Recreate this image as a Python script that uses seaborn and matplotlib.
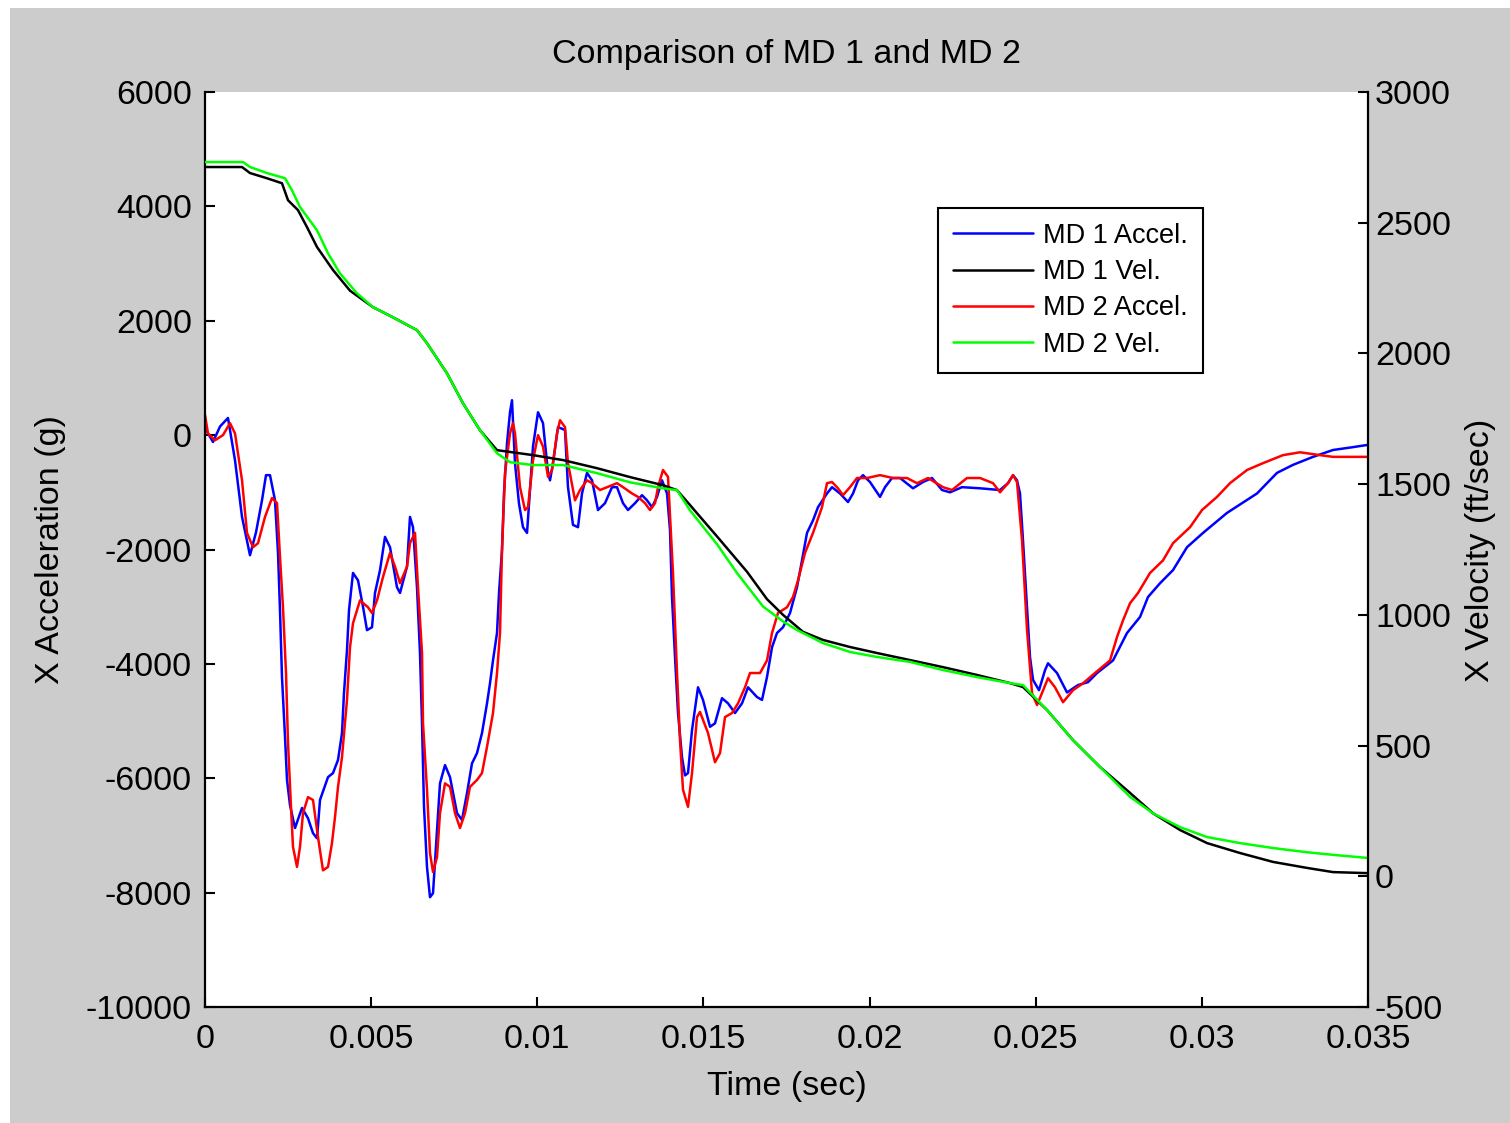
import numpy as np
import matplotlib
matplotlib.use("Agg")
import matplotlib.pyplot as plt
from matplotlib.patches import Rectangle
import seaborn as sns

# ---------------------------------------------------------------------------
# Measured data (time in milliseconds)
# ---------------------------------------------------------------------------
t_md1_accel = [
    0.000, 0.241, 0.451, 0.692, 0.903, 1.114, 1.354, 1.535, 1.715, 1.836,
    1.956, 2.107, 2.197, 2.257, 2.317, 2.408, 2.468, 2.558, 2.709, 2.919,
    3.100, 3.250, 3.371, 3.461, 3.702, 3.852, 4.003, 4.123, 4.183, 4.273,
    4.334, 4.454, 4.605, 4.755, 4.875, 5.026, 5.116, 5.267, 5.417, 5.568,
    5.778, 5.869, 6.079, 6.169, 6.260, 6.380, 6.470, 6.531, 6.591, 6.681,
    6.771, 6.862, 6.982, 7.072, 7.223, 7.373, 7.584, 7.734, 7.885, 8.035,
    8.186, 8.336, 8.487, 8.577, 8.667, 8.788, 8.848, 8.938, 8.998, 9.089,
    9.179, 9.239, 9.329, 9.450, 9.570, 9.691, 9.781, 9.871, 10.022, 10.172,
    10.323, 10.383, 10.473, 10.624, 10.834, 10.924, 11.075, 11.225, 11.346, 11.496,
    11.647, 11.827, 12.038, 12.249, 12.399, 12.580, 12.730, 12.941, 13.152, 13.302,
    13.452, 13.603, 13.753, 13.904, 13.994, 14.054, 14.145, 14.235, 14.355, 14.446,
    14.536, 14.656, 14.837, 14.987, 15.198, 15.348, 15.559, 15.740, 15.950, 16.161,
    16.342, 16.612, 16.763, 16.913, 17.064, 17.214, 17.395, 17.606, 17.816, 17.967,
    18.117, 18.298, 18.448, 18.719, 18.870, 19.110, 19.351, 19.502, 19.652, 19.803,
    20.013, 20.314, 20.465, 20.675, 20.916, 21.307, 21.608, 21.879, 22.180, 22.421,
    22.782, 23.324, 23.925, 24.166, 24.317, 24.437, 24.527, 24.617, 24.738, 24.828,
    24.919, 25.099, 25.280, 25.370, 25.641, 25.942, 26.273, 26.574, 26.845, 27.326,
    27.748, 28.139, 28.380, 28.741, 29.132, 29.553, 30.035, 30.757, 31.660, 32.262,
    32.743, 33.345, 33.947, 34.549, 35.000,
]
md1_accel = [
    120, -120, 150, 300, -440, -1430, -2100, -1700, -1140, -700,
    -700, -1140, -2060, -3060, -4230, -5280, -6030, -6470, -6870, -6520,
    -6700, -6960, -7050, -6380, -5980, -5910, -5680, -5210, -4510, -3760,
    -3060, -2410, -2540, -3000, -3410, -3360, -2760, -2360, -1780, -1960,
    -2660, -2760, -2300, -1430, -1610, -2660, -3810, -5040, -6500, -7550,
    -8080, -8010, -6910, -6090, -5770, -5980, -6610, -6730, -6260, -5740,
    -5560, -5210, -4690, -4340, -3940, -3460, -2760, -2010, -1020, -140,
    400, 610, -490, -1200, -1610, -1710, -960, -200, 400, 210,
    -660, -790, -490, 140, 90, -910, -1570, -1610, -1020, -660,
    -790, -1310, -1190, -910, -910, -1190, -1310, -1190, -1050, -1140,
    -1260, -1080, -790, -1020, -1660, -2830, -3880, -4860, -5630, -5950,
    -5910, -5160, -4410, -4630, -5100, -5040, -4600, -4690, -4860, -4690,
    -4410, -4580, -4630, -4230, -3710, -3460, -3360, -3110, -2660, -2190,
    -1710, -1490, -1260, -1020, -910, -1020, -1170, -1020, -790, -700,
    -820, -1080, -910, -750, -750, -930, -820, -750, -960, -1000,
    -910, -930, -960, -840, -700, -790, -1020, -1840, -3010, -3880,
    -4280, -4460, -4110, -3990, -4160, -4500, -4370, -4320, -4160, -3940,
    -3460, -3180, -2830, -2590, -2360, -1960, -1710, -1360, -1020, -660,
    -520, -380, -260, -210, -170,
]

t_md2_accel = [
    0.000, 0.090, 0.301, 0.542, 0.752, 0.903, 1.114, 1.264, 1.445, 1.595,
    1.806, 2.017, 2.167, 2.257, 2.347, 2.438, 2.498, 2.588, 2.648, 2.769,
    2.859, 2.949, 3.100, 3.250, 3.401, 3.551, 3.702, 3.822, 3.912, 4.003,
    4.123, 4.273, 4.364, 4.454, 4.665, 4.905, 5.026, 5.176, 5.357, 5.568,
    5.718, 5.869, 6.079, 6.169, 6.320, 6.410, 6.531, 6.561, 6.681, 6.771,
    6.862, 6.982, 7.072, 7.223, 7.373, 7.524, 7.674, 7.825, 7.975, 8.186,
    8.336, 8.487, 8.667, 8.788, 8.878, 8.938, 9.029, 9.179, 9.269, 9.329,
    9.480, 9.630, 9.721, 9.871, 10.022, 10.172, 10.323, 10.443, 10.593, 10.684,
    10.834, 10.924, 11.135, 11.286, 11.496, 11.647, 11.888, 12.098, 12.399, 12.580,
    12.851, 13.031, 13.242, 13.392, 13.543, 13.633, 13.783, 13.934, 14.084, 14.205,
    14.295, 14.385, 14.536, 14.656, 14.807, 14.897, 15.138, 15.348, 15.499, 15.649,
    15.860, 16.041, 16.251, 16.402, 16.703, 16.913, 17.064, 17.244, 17.515, 17.696,
    17.846, 18.057, 18.298, 18.568, 18.719, 18.870, 19.050, 19.200, 19.411, 19.622,
    19.923, 20.314, 20.705, 21.126, 21.427, 21.759, 22.210, 22.481, 22.932, 23.324,
    23.715, 23.925, 24.166, 24.317, 24.437, 24.588, 24.738, 24.889, 25.039, 25.189,
    25.370, 25.581, 25.822, 26.122, 26.423, 26.784, 27.236, 27.447, 27.627, 27.838,
    28.079, 28.440, 28.831, 29.132, 29.644, 30.005, 30.456, 30.847, 31.359, 31.840,
    32.442, 32.954, 33.556, 33.947, 35.000,
]
md2_accel = [
    350, 30, -90, 0, 210, 30, -790, -1710, -1960, -1890,
    -1430, -1100, -1190, -2130, -3010, -4160, -5380, -6500, -7200, -7550,
    -7200, -6610, -6330, -6380, -7030, -7610, -7550, -7130, -6680, -6150,
    -5630, -4630, -3710, -3290, -2890, -3010, -3110, -2890, -2480, -2060,
    -2300, -2590, -2300, -1890, -1710, -2660, -3810, -5040, -6200, -7310,
    -7640, -7380, -6610, -6090, -6150, -6610, -6870, -6610, -6150, -6030,
    -5910, -5450, -4860, -4160, -3460, -2010, -660, 30, 210, 30,
    -910, -1310, -1260, -440, 0, -200, -730, -610, 30, 260,
    140, -490, -1140, -960, -790, -840, -960, -910, -840, -910,
    -1020, -1080, -1190, -1310, -1190, -910, -610, -730, -2410, -4160,
    -5330, -6200, -6500, -5910, -4930, -4840, -5210, -5720, -5560, -4930,
    -4860, -4690, -4410, -4160, -4160, -3940, -3460, -3110, -3010, -2830,
    -2540, -2060, -1710, -1260, -840, -820, -930, -1050, -910, -750,
    -750, -700, -750, -750, -840, -750, -910, -960, -750, -750,
    -840, -1000, -840, -700, -820, -1840, -3400, -4510, -4720, -4510,
    -4250, -4410, -4670, -4460, -4340, -4160, -3940, -3530, -3240, -2940,
    -2760, -2410, -2190, -1890, -1610, -1310, -1080, -840, -610, -490,
    -350, -300, -350, -380, -380,
]

t_md1_vel = [
    0.000, 1.114, 1.354, 1.866, 2.317, 2.498, 2.799, 3.070, 3.371, 3.852,
    4.364, 5.056, 5.658, 6.380, 6.681, 7.283, 7.765, 8.276, 8.788, 9.871,
    10.774, 11.797, 12.790, 13.783, 14.205, 14.596, 15.409, 16.311, 16.913, 17.395,
    17.997, 18.599, 19.411, 20.224, 21.217, 22.210, 23.233, 24.226, 24.618, 25.340,
    26.122, 26.935, 27.838, 28.530, 29.343, 30.155, 31.148, 32.141, 33.165, 33.947,
    35.000,
]
md1_vel = [
    2713, 2713, 2690, 2670, 2651, 2586, 2548, 2483, 2407, 2319,
    2240, 2177, 2138, 2089, 2039, 1924, 1809, 1706, 1630, 1611,
    1592, 1561, 1527, 1496, 1477, 1420, 1300, 1165, 1060, 1000,
    935, 904, 877, 854, 827, 800, 770, 739, 724, 636,
    521, 418, 319, 241, 177, 127, 89, 55, 32, 16,
    12,
]

t_md2_vel = [
    0.000, 1.144, 1.354, 1.866, 2.408, 2.618, 2.859, 3.371, 3.702, 4.063,
    4.574, 5.056, 5.658, 6.380, 6.681, 7.283, 7.765, 8.276, 8.788, 9.179,
    9.871, 10.774, 11.797, 12.790, 13.783, 14.205, 14.596, 15.409, 16.011, 16.793,
    17.395, 17.816, 18.599, 19.411, 20.224, 21.217, 22.210, 23.233, 24.226, 24.618,
    25.340, 26.122, 26.935, 27.838, 28.530, 29.343, 30.155, 31.148, 32.141, 33.165,
    33.947, 35.000,
]
md2_vel = [
    2732, 2732, 2713, 2690, 2670, 2624, 2560, 2471, 2383, 2306,
    2230, 2177, 2138, 2089, 2039, 1924, 1809, 1706, 1618, 1584,
    1573, 1573, 1542, 1507, 1484, 1477, 1400, 1270, 1160, 1032,
    975, 942, 892, 858, 839, 820, 789, 762, 739, 731,
    636, 521, 418, 304, 241, 188, 150, 127, 108, 92,
    82, 70,
]

series_labels = ["MD 1 Accel.", "MD 1 Vel.", "MD 2 Accel.", "MD 2 Vel."]
x_ticks = [0, 0.005, 0.01, 0.015, 0.02, 0.025, 0.03, 0.035]
x_tick_labels = ["0", "0.005", "0.01", "0.015", "0.02", "0.025", "0.03", "0.035"]
accel_ticks = [-10000, -8000, -6000, -4000, -2000, 0, 2000, 4000, 6000]
vel_ticks = [-500, 0, 500, 1000, 1500, 2000, 2500, 3000]

# ---------------------------------------------------------------------------
# Styling
# ---------------------------------------------------------------------------
sns.set_style("ticks")
plt.rcParams["font.family"] = ["Liberation Sans", "DejaVu Sans"]
plt.rcParams["axes.unicode_minus"] = False
plt.rcParams["text.color"] = "black"
plt.rcParams["axes.labelcolor"] = "black"
plt.rcParams["xtick.color"] = "black"
plt.rcParams["ytick.color"] = "black"

W, H = 1510, 1123
fig = plt.figure(figsize=(W / 100, H / 100), dpi=100)
fig.patch.set_facecolor("white")
fig.add_artist(Rectangle((10 / W, 0), 1 - 10 / W, 1 - 8 / H,
                         transform=fig.transFigure, facecolor="#cccccc",
                         edgecolor="none", zorder=-10))

ax1 = fig.add_axes([205 / W, 1 - 1007 / H, (1368 - 205) / W, (1007 - 92) / H])
ax1.set_facecolor("white")
ax2 = ax1.twinx()

LW = 1.8
sns.lineplot(x=np.asarray(t_md1_accel) / 1000, y=md1_accel, ax=ax1,
             color="#0000ff", linewidth=LW, estimator=None, sort=False, legend=False)
sns.lineplot(x=np.asarray(t_md2_accel) / 1000, y=md2_accel, ax=ax1,
             color="#ff0000", linewidth=LW, estimator=None, sort=False, legend=False)
sns.lineplot(x=np.asarray(t_md1_vel) / 1000, y=md1_vel, ax=ax2,
             color="#000000", linewidth=LW, estimator=None, sort=False, legend=False)
sns.lineplot(x=np.asarray(t_md2_vel) / 1000, y=md2_vel, ax=ax2,
             color="#00ff00", linewidth=LW, estimator=None, sort=False, legend=False)

ax1.set_xlim(0, 0.035)
ax1.set_ylim(-10000, 6000)
ax2.set_ylim(-500, 3000)

ax1.set_xticks(x_ticks)
ax1.set_xticklabels(x_tick_labels)
ax1.set_yticks(accel_ticks)
ax2.set_yticks(vel_ticks)

FS = 24.5
ax1.tick_params(axis="both", direction="in", length=7, width=1.5,
                labelsize=FS, colors="black", top=False, right=False)
ax1.tick_params(axis="y", pad=9.5)
ax1.tick_params(axis="x", pad=12)
ax2.tick_params(axis="y", direction="in", length=7, width=1.5,
                labelsize=FS, colors="black", pad=5)

for s in ("top", "right"):
    ax1.spines[s].set_visible(False)
for s in ("top", "left", "bottom"):
    ax2.spines[s].set_visible(False)
for s in ("left", "bottom"):
    ax1.spines[s].set_linewidth(1.6)
    ax1.spines[s].set_color("black")
ax2.spines["right"].set_linewidth(1.6)
ax2.spines["right"].set_color("black")

ax1.set_xlabel("Time (sec)", fontsize=FS, color="black")
ax1.xaxis.set_label_coords(0.5, -(1071 - 1007) / 915)
ax1.set_ylabel("X Acceleration (g)", fontsize=FS, color="black")
ax1.yaxis.set_label_coords((66 - 205) / 1163, 0.4995)
ax2.set_ylabel("X Velocity (ft/sec)", fontsize=FS, color="black")
ax2.yaxis.set_label_coords((1465 - 205) / 1163, 0.4995)
ax1.set_title("Comparison of MD 1 and MD 2", fontsize=FS, pad=21, color="black")

handles = [ax1.lines[0], ax2.lines[0], ax1.lines[1], ax2.lines[1]]
leg = ax2.legend(handles, series_labels, loc="upper left",
                 bbox_to_anchor=(938 / W, 1 - 208 / H), bbox_transform=fig.transFigure,
                 borderaxespad=0, fontsize=19.5, frameon=True, fancybox=False,
                 shadow=False, edgecolor="black", framealpha=1,
                 handlelength=2.95, handletextpad=0.37, labelspacing=0.38,
                 borderpad=0.55)
leg.get_frame().set_linewidth(1.5)
for txt in leg.get_texts():
    txt.set_color("black")

fig.savefig("out.png", dpi=100, facecolor=fig.get_facecolor())
